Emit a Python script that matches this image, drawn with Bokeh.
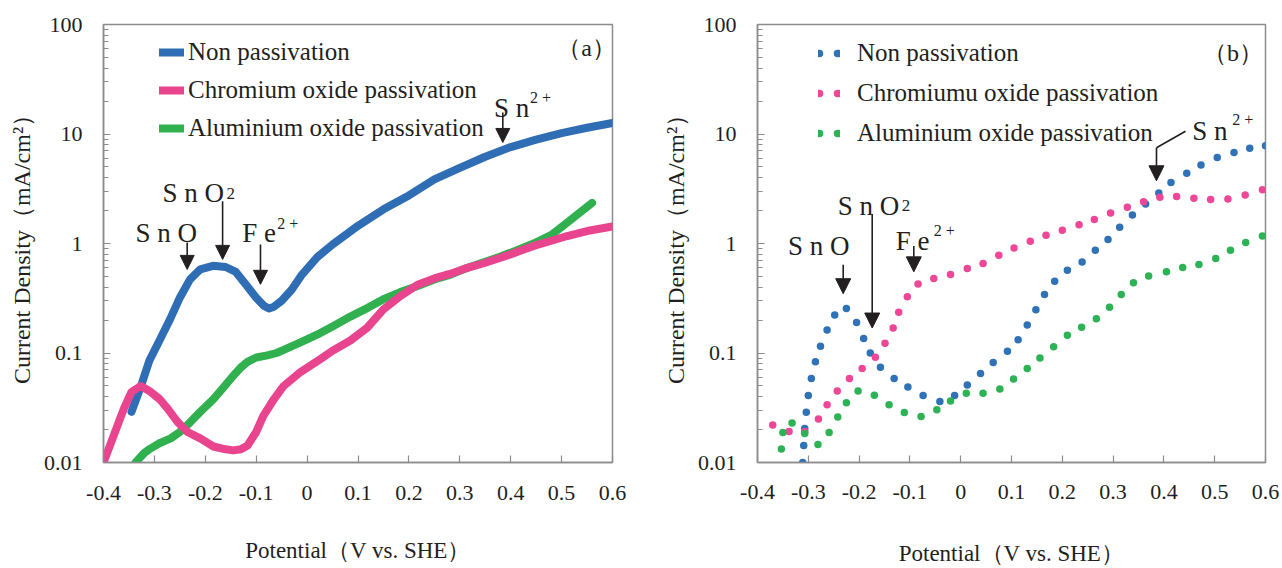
from bokeh.plotting import figure
from bokeh.models import (Range1d, FixedTicker, CustomJSTickFormatter, Legend, LegendItem,
                          Label, Arrow, NormalHead)
from bokeh.layouts import row
from bokeh.embed import file_html
from bokeh.resources import INLINE

# ---------------- data ----------------
x_ticks = [-0.4, -0.3, -0.2, -0.1, 0.0, 0.1, 0.2, 0.3, 0.4, 0.5, 0.6]
y_ticks = [0.01, 0.1, 1, 10, 100]

x_title = "Potential（V vs. SHE）"
y_title = "Current Density（mA/cm²）"
names_a = ["Non passivation", "Chromium oxide passivation", "Aluminium oxide passivation"]
names_b = ["Non passivation", "Chromiumu oxide passivation", "Aluminium oxide passivation"]

# Panel (a): continuous curves
a_non_x = [-0.345, -0.325, -0.31, -0.29, -0.27, -0.25, -0.23, -0.21, -0.185, -0.16, -0.14, -0.12,
           -0.10, -0.085, -0.075, -0.065, -0.05, -0.03, -0.01, 0.02, 0.05, 0.1, 0.15, 0.2, 0.25,
           0.3, 0.35, 0.4, 0.45, 0.5, 0.55, 0.6]
a_non_y = [0.029, 0.052, 0.085, 0.13, 0.2, 0.32, 0.47, 0.58, 0.625, 0.61, 0.55, 0.42,
           0.32, 0.27, 0.255, 0.265, 0.3, 0.38, 0.52, 0.75, 0.98, 1.45, 2.05, 2.75, 3.85,
           4.9, 6.2, 7.6, 8.9, 10.2, 11.4, 12.6]

a_cr_x = [-0.4, -0.38, -0.36, -0.345, -0.327, -0.31, -0.29, -0.274, -0.255, -0.235, -0.21, -0.184,
          -0.16, -0.145, -0.13, -0.117, -0.1, -0.086, -0.065, -0.046, -0.013, 0.026, 0.05, 0.085,
          0.118, 0.15, 0.183, 0.217, 0.25, 0.282, 0.315, 0.347, 0.38, 0.41, 0.445, 0.48, 0.511,
          0.55, 0.6]
a_cr_y = [0.01, 0.0176, 0.031, 0.044, 0.05, 0.045, 0.038, 0.031, 0.0236, 0.019, 0.0166, 0.014,
          0.0132, 0.0129, 0.0132, 0.0143, 0.019, 0.0267, 0.038, 0.05, 0.067, 0.088, 0.105, 0.13,
          0.17, 0.25, 0.33, 0.42, 0.48, 0.53, 0.6, 0.66, 0.74, 0.83, 0.95, 1.06, 1.17,
          1.3, 1.43]

a_al_x = [-0.337, -0.32, -0.308, -0.29, -0.268, -0.25, -0.235, -0.21, -0.184, -0.165, -0.145, -0.13,
          -0.117, -0.1, -0.078, -0.06, -0.046, -0.013, 0.026, 0.05, 0.085, 0.12, 0.15, 0.183, 0.217,
          0.25, 0.282, 0.315, 0.35, 0.38, 0.41, 0.445, 0.48, 0.511, 0.535, 0.56]
a_al_y = [0.0100, 0.0122, 0.0134, 0.015, 0.0166, 0.019, 0.022, 0.029, 0.038, 0.048, 0.062, 0.074,
          0.083, 0.091, 0.095, 0.1, 0.107, 0.125, 0.152, 0.175, 0.215, 0.26, 0.31, 0.36, 0.41,
          0.47, 0.52, 0.6, 0.68, 0.76, 0.86, 1.0, 1.2, 1.55, 1.9, 2.35]

# Panel (b): dotted measurements
b_non_x = [-0.311, -0.309, -0.307, -0.304, -0.300, -0.294, -0.286, -0.276, -0.263, -0.248, -0.225,
           -0.205, -0.191, -0.178, -0.158, -0.131, -0.104, -0.074, -0.041, -0.012, 0.013, 0.039,
           0.064, 0.092, 0.113, 0.131, 0.148, 0.165, 0.185, 0.210, 0.239, 0.265, 0.290, 0.313,
           0.338, 0.364, 0.390, 0.414, 0.445, 0.473, 0.505, 0.538, 0.569, 0.6]
b_non_y = [0.0100, 0.0143, 0.0204, 0.0288, 0.041, 0.0586, 0.083, 0.115, 0.162, 0.222, 0.255,
           0.19, 0.136, 0.1, 0.074, 0.0586, 0.049, 0.041, 0.036, 0.041, 0.051, 0.065,
           0.082, 0.104, 0.132, 0.18, 0.248, 0.343, 0.453, 0.57, 0.676, 0.867, 1.09, 1.41,
           1.82, 2.3, 2.89, 3.61, 4.39, 5.2, 6.1, 6.76, 7.4, 7.8]

b_cr_x = [-0.370, -0.338, -0.307, -0.280, -0.263, -0.243, -0.219, -0.194, -0.168, -0.149, -0.133,
          -0.122, -0.105, -0.084, -0.053, -0.020, 0.013, 0.044, 0.075, 0.105, 0.137, 0.168, 0.2,
          0.233, 0.263, 0.295, 0.328, 0.36, 0.392, 0.425, 0.459, 0.492, 0.526, 0.56, 0.594]
b_cr_y = [0.022, 0.0192, 0.0192, 0.0249, 0.0336, 0.045, 0.0586, 0.072, 0.0915, 0.123, 0.169,
          0.236, 0.327, 0.427, 0.48, 0.52, 0.59, 0.656, 0.78, 0.91, 1.05, 1.19, 1.32,
          1.48, 1.66, 1.9, 2.14, 2.41, 2.64, 2.68, 2.59, 2.52, 2.55, 2.77, 3.1]

b_al_x = [-0.353, -0.350, -0.332, -0.307, -0.281, -0.259, -0.242, -0.225, -0.202, -0.170, -0.141,
          -0.111, -0.078, -0.047, -0.020, 0.011, 0.044, 0.077, 0.104, 0.131, 0.156, 0.183, 0.21,
          0.238, 0.267, 0.293, 0.316, 0.34, 0.37, 0.405, 0.437, 0.469, 0.502, 0.531, 0.561, 0.594]
b_al_y = [0.0133, 0.0188, 0.0229, 0.0184, 0.0146, 0.0188, 0.0261, 0.0352, 0.045, 0.0411, 0.0336,
          0.0286, 0.0263, 0.0303, 0.0365, 0.0429, 0.0429, 0.047, 0.058, 0.072, 0.090, 0.114, 0.145,
          0.172, 0.205, 0.262, 0.343, 0.438, 0.504, 0.551, 0.604, 0.643, 0.728, 0.867, 1.02, 1.17]

# ---------------- style ----------------
FONT = "Liberation Serif"
TXT = "#231f20"
FRAME = "#8c8c8c"
col_a = ["#2f6db4", "#e9458f", "#30b04e"]
col_b = ["#2f72b6", "#ef4798", "#2db356"]

y_minor = [m * d for d in (0.01, 0.1, 1, 10) for m in range(2, 10)]


def make_fig(width, left, right, top, bottom, y_std, x_std, xl_std, yl_std):
    p = figure(width=width, height=568, x_range=Range1d(-0.4, 0.6), y_range=Range1d(0.01, 100),
               y_axis_type="log", output_backend="svg", toolbar_location=None,
               min_border_left=left, min_border_right=right, min_border_top=top,
               min_border_bottom=bottom)
    p.xgrid.visible = False
    p.ygrid.visible = False
    p.outline_line_color = FRAME
    p.outline_line_width = 1.5
    p.background_fill_color = "white"
    p.border_fill_color = "white"
    for ax in (p.xaxis[0], p.yaxis[0]):
        ax.axis_line_color = FRAME
        ax.axis_line_width = 1.5
        ax.major_tick_line_color = FRAME
        ax.minor_tick_line_color = FRAME
        ax.major_tick_line_width = 1.2
        ax.minor_tick_line_width = 1.2
        ax.major_tick_in = 7
        ax.major_tick_out = 0
        ax.minor_tick_in = 5
        ax.minor_tick_out = 0
        ax.major_label_text_font = FONT
        ax.major_label_text_font_size = "22px"
        ax.major_label_text_color = TXT
        ax.axis_label_text_font = FONT
        ax.axis_label_text_font_style = "normal"
        ax.axis_label_text_color = TXT
    p.xaxis.ticker = FixedTicker(ticks=x_ticks)
    p.xaxis.formatter = CustomJSTickFormatter(
        code="const v = Math.round(tick*10)/10; return v === 0 ? '0' : String(v);")
    p.yaxis.ticker = FixedTicker(ticks=y_ticks, minor_ticks=y_minor)
    p.yaxis.formatter = CustomJSTickFormatter(code="return String(tick);")
    p.xaxis.axis_label = x_title
    p.yaxis.axis_label = y_title
    p.xaxis.axis_label_text_font_size = "23px"
    p.yaxis.axis_label_text_font_size = "24px"
    p.xaxis.major_label_standoff = x_std
    p.yaxis.major_label_standoff = y_std
    p.xaxis.axis_label_standoff = xl_std
    p.yaxis.axis_label_standoff = yl_std
    return p


def add_text(p, text, x, y, size=27, dx=0, dy=0, align="left", baseline="alphabetic"):
    p.add_layout(Label(x=x, y=y, text=text, text_font=FONT, text_font_size=f"{size}px",
                       text_color=TXT, text_align=align, text_baseline=baseline,
                       x_offset=dx, y_offset=dy))


def add_arrow(p, x0, y0, x1, y1, head=14):
    p.add_layout(Arrow(end=NormalHead(size=head, fill_color=TXT, line_color=TXT),
                       x_start=x0, y_start=y0, x_end=x1, y_end=y1,
                       line_color=TXT, line_width=1.6))


# ---------------- panel (a) ----------------
pa = make_fig(640, 103, 28, 24, 104, 21, 23, 35, 6)
r_non = pa.line(a_non_x, a_non_y, line_width=8, color=col_a[0], line_cap="round", line_join="round")
r_al = pa.line(a_al_x, a_al_y, line_width=8, color=col_a[2], line_cap="round", line_join="round")
r_cr = pa.line(a_cr_x, a_cr_y, line_width=8, color=col_a[1], line_cap="round", line_join="round")

leg_a = Legend(items=[LegendItem(label=names_a[0], renderers=[r_non]),
                      LegendItem(label=names_a[1], renderers=[r_cr]),
                      LegendItem(label=names_a[2], renderers=[r_al])],
               location=(56, 319), orientation="vertical", glyph_width=25, glyph_height=30,
               label_height=30, label_standoff=4, spacing=8, padding=0, margin=0,
               label_text_font=FONT, label_text_font_size="25px", label_text_color=TXT,
               background_fill_alpha=0, border_line_alpha=0)
pa.add_layout(leg_a)

add_text(pa, "S n O", -0.337, 1.25)
add_text(pa, "S n O", -0.284, 2.89)
add_text(pa, "2", -0.284, 2.89, size=17, dx=64)
add_text(pa, "F e", -0.1275, 1.25)
add_text(pa, "2 +", -0.1275, 1.25, size=16, dx=35, dy=9)
add_text(pa, "S n", 0.367, 17.2)
add_text(pa, "2 +", 0.367, 17.2, size=16, dx=36, dy=11)
add_text(pa, "（a）", 0.549, 60.5, size=24, align="center", baseline="middle")
add_arrow(pa, -0.2356, 1.02, -0.2356, 0.58)
add_arrow(pa, -0.166, 2.43, -0.166, 0.716)
add_arrow(pa, -0.0916, 0.98, -0.0916, 0.424)
add_arrow(pa, 0.3845, 15.7, 0.3845, 8.37)

# ---------------- panel (b) ----------------
pb = make_fig(642, 117, 17, 21, 106, 21, 22, 39, 6)
pb.scatter(b_non_x, b_non_y, size=7.5, fill_color=col_b[0], line_color=None)
pb.scatter(b_cr_x, b_cr_y, size=7.5, fill_color=col_b[1], line_color=None)
pb.scatter(b_al_x, b_al_y, size=7.5, fill_color=col_b[2], line_color=None)

nan = float("nan")
proxies = [pb.line(x=[nan], y=[nan], line_width=7.5, color=c, line_dash="1 18", line_cap="round")
           for c in col_b]
leg_b = Legend(items=[LegendItem(label=n, renderers=[r]) for n, r in zip(names_b, proxies)],
               location=(61, 314), orientation="vertical", glyph_width=22, glyph_height=30,
               label_height=30, label_standoff=17, spacing=10, padding=0, margin=0,
               label_text_font=FONT, label_text_font_size="25px", label_text_color=TXT,
               background_fill_alpha=0, border_line_alpha=0)
pb.add_layout(leg_b)

add_text(pb, "S n O", -0.340, 0.948)
add_text(pb, "S n O", -0.242, 2.22)
add_text(pb, "2", -0.242, 2.22, size=17, dx=64)
add_text(pb, "F e", -0.128, 1.047)
add_text(pb, "2 +", -0.128, 1.047, size=16, dx=38, dy=11)
add_text(pb, "S n", 0.4557, 10.6)
add_text(pb, "2 +", 0.4557, 10.6, size=16, dx=40, dy=12)
add_text(pb, "（b）", 0.536, 54.6, size=24, align="center", baseline="middle")
add_arrow(pb, -0.2313, 0.638, -0.2313, 0.348, head=15)
add_arrow(pb, -0.1742, 1.86, -0.1742, 0.169, head=15)
add_arrow(pb, -0.0923, 0.949, -0.0923, 0.551, head=15)
pb.add_layout(Arrow(end=None, x_start=0.4425, y_start=10.6, x_end=0.3854, y_end=7.5,
                    line_color=TXT, line_width=1.6))
add_arrow(pb, 0.3854, 7.5, 0.3854, 3.74, head=15)

layout = row(pa, pb)
open("out.html", "w").write(file_html(layout, INLINE))
